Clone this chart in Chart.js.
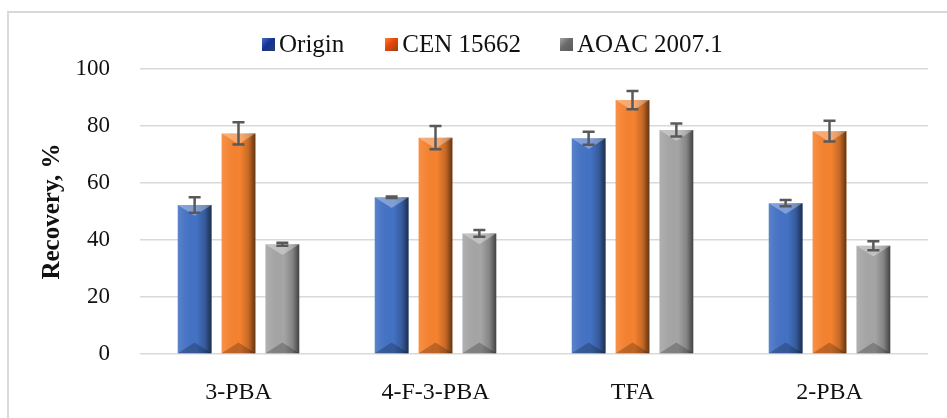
<!DOCTYPE html>
<html>
<head>
<meta charset="utf-8">
<script src="https://cdn.jsdelivr.net/npm/chart.js@4.4.0/dist/chart.umd.min.js"></script>
<style>
  html, body { margin: 0; padding: 0; background: #fff; }
  #wrap { position: relative; width: 947px; height: 418px; overflow: hidden; }
  #frame { position: absolute; left: 7px; top: 11px; width: 960px; height: 420px;
           border-top: 2px solid #d9d9d9; border-left: 2px solid #d9d9d9; }
  #legend { position: absolute; top: 28px; left: 262px; height: 32px; display: flex; align-items: center;
            font-family: "Liberation Serif", "Times New Roman", serif; font-size: 25px; color: #111; }
  #legend .item { display: flex; align-items: center; }
  #legend .box { width: 13px; height: 13px; margin-right: 4px; }
  canvas { position: absolute; left: 0; top: 0; }
</style>
</head>
<body>
<div id="wrap">
  <div id="frame"></div>
  <canvas id="recoverychart" width="947" height="418"></canvas>
  <div id="legend"></div>
</div>
<script>
const labels = ["3-PBA", "4-F-3-PBA", "TFA", "2-PBA"];
const seriesNames = ["Origin", "CEN 15662", "AOAC 2007.1"];
const originValues = [52.3, 55.0, 75.7, 52.9];
const cenValues = [77.4, 75.9, 89.1, 78.2];
const aoacValues = [38.5, 42.3, 78.6, 38.0];
// +/- error, read from the whiskers
const originErr = [2.7, 0.3, 2.3, 1.1];
const cenErr = [3.9, 4.1, 3.2, 3.6];
const aoacErr = [0.5, 1.2, 2.3, 1.6];
const yTicks = [0, 20, 40, 60, 80, 100];

const colors = ["#4472C4", "#F5822F", "#A5A5A5"];
const serif = "'Liberation Serif', 'Times New Roman', serif";

// html legend, gaps in the picture are tighter than chart.js allows
const legendEl = document.getElementById("legend");
const gaps = [0, 41, 39];
seriesNames.forEach((name, i) => {
  const item = document.createElement("div");
  item.className = "item";
  item.style.marginLeft = gaps[i] + "px";
  const box = document.createElement("span");
  box.className = "box";
  box.style.background = `linear-gradient(135deg, rgba(255,255,255,0.35), ${colors[i]} 45%, rgba(0,0,0,0.45) 100%), ${colors[i]}`;
  box.style.backgroundBlendMode = "multiply";
  const txt = document.createElement("span");
  txt.textContent = name;
  item.appendChild(box);
  item.appendChild(txt);
  legendEl.appendChild(item);
});

// shades each bar so it looks like the bevelled office bars
const bevelPlugin = {
  id: "bevel",
  afterDatasetsDraw(chart) {
    const ctx = chart.ctx;
    chart.data.datasets.forEach((ds, di) => {
      const meta = chart.getDatasetMeta(di);
      meta.data.forEach((bar) => {
        const w = bar.width;
        const left = bar.x - w / 2;
        const right = bar.x + w / 2;
        const top = bar.y;
        const bottom = bar.base;
        const h = bottom - top;
        ctx.save();
        // side shading
        const g = ctx.createLinearGradient(left, 0, right, 0);
        g.addColorStop(0, "rgba(255,255,255,0.12)");
        g.addColorStop(0.15, "rgba(255,255,255,0.05)");
        g.addColorStop(0.55, "rgba(0,0,0,0)");
        g.addColorStop(0.8, "rgba(0,0,0,0.2)");
        g.addColorStop(1, "rgba(0,0,0,0.6)");
        ctx.fillStyle = g;
        ctx.fillRect(left, top, w, h);
        // top wedge
        const d = Math.min(w * 0.32, h / 2);
        ctx.beginPath();
        ctx.moveTo(left, top);
        ctx.lineTo(right, top);
        ctx.lineTo(bar.x, top + d);
        ctx.closePath();
        ctx.fillStyle = "rgba(255,255,255,0.32)";
        ctx.fill();
        // bottom wedge
        ctx.beginPath();
        ctx.moveTo(left, bottom);
        ctx.lineTo(right, bottom);
        ctx.lineTo(bar.x, bottom - d);
        ctx.closePath();
        ctx.fillStyle = "rgba(0,0,0,0.22)";
        ctx.fill();
        ctx.restore();
      });
    });
  },
};

// whiskers drawn from the y scale
const errorBarPlugin = {
  id: "errorBars",
  afterDatasetsDraw(chart) {
    const ctx = chart.ctx;
    const y = chart.scales.y;
    chart.data.datasets.forEach((ds, di) => {
      const meta = chart.getDatasetMeta(di);
      meta.data.forEach((bar, i) => {
        const v = ds.data[i];
        const e = ds.errors[i];
        const yHi = y.getPixelForValue(v + e);
        const yLo = y.getPixelForValue(v - e);
        ctx.save();
        ctx.strokeStyle = "#595959";
        ctx.lineWidth = 2.5;
        ctx.beginPath();
        ctx.moveTo(bar.x, yHi);
        ctx.lineTo(bar.x, yLo);
        ctx.moveTo(bar.x - 6, yHi);
        ctx.lineTo(bar.x + 6, yHi);
        ctx.moveTo(bar.x - 6, yLo);
        ctx.lineTo(bar.x + 6, yLo);
        ctx.stroke();
        ctx.restore();
      });
    });
  },
};

const chart = new Chart(document.getElementById("recoverychart"), {
  type: "bar",
  data: {
    labels: labels,
    datasets: [
      { label: seriesNames[0], data: originValues, errors: originErr, backgroundColor: colors[0], borderWidth: 0 },
      { label: seriesNames[1], data: cenValues, errors: cenErr, backgroundColor: colors[1], borderWidth: 0 },
      { label: seriesNames[2], data: aoacValues, errors: aoacErr, backgroundColor: colors[2], borderWidth: 0 },
    ],
  },
  options: {
    responsive: false,
    animation: false,
    layout: { padding: { top: 69, right: 19, bottom: 0, left: 0 } },
    datasets: {
      bar: { categoryPercentage: 0.668, barPercentage: 0.77 },
    },
    plugins: {
      legend: { display: false },
      tooltip: { enabled: false },
    },
    scales: {
      x: {
        grid: { display: false },
        border: { display: false },
        ticks: {
          padding: 16,
          color: "#111",
          font: { family: serif, size: 24 },
        },
        afterFit(scale) { scale.height = 64; },
      },
      y: {
        min: 0,
        max: 100,
        afterBuildTicks(scale) { scale.ticks = yTicks.map((v) => ({ value: v })); },
        grid: { color: "#d9d9d9", lineWidth: 1.5, drawTicks: false },
        border: { display: false },
        ticks: {
          padding: 30,
          color: "#111",
          font: { family: serif, size: 23 },
        },
        title: {
          display: true,
          text: "Recovery, %",
          color: "#111",
          font: { family: serif, size: 25, weight: "bold" },
          padding: { top: 38, bottom: 0 },
        },
        afterFit(scale) { scale.width = 140; },
      },
    },
  },
  plugins: [bevelPlugin, errorBarPlugin],
});
</script>
</body>
</html>
